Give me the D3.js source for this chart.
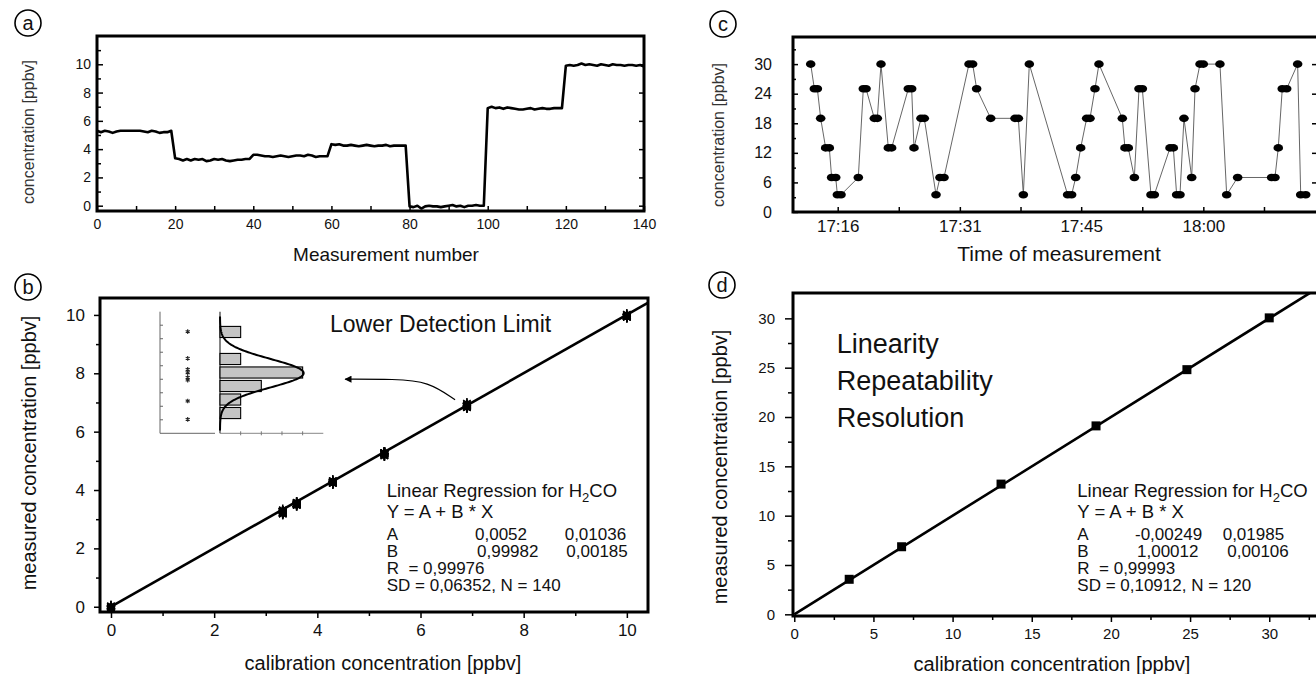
<!DOCTYPE html>
<html>
<head>
<meta charset="utf-8">
<script src="https://cdn.jsdelivr.net/npm/d3@7"></script>
<style>
body { margin: 0; background: #fff; }
svg text { font-family: "Liberation Sans", Arial, Helvetica, sans-serif; fill: #111; }
</style>
</head>
<body>
<svg id="fig" width="1316" height="674"></svg>
<script>
var FONT = '"Liberation Sans", Arial, Helvetica, sans-serif';

// (a) measurement series, index = measurement number
var runValues = [
  5.3,5.2,5.3,5.25,5.15,5.25,5.3,5.3,5.3,5.3,5.3,5.3,5.25,5.2,5.3,5.25,5.15,5.2,5.2,5.3,
  3.35,3.3,3.2,3.3,3.2,3.3,3.25,3.3,3.15,3.2,3.3,3.25,3.3,3.2,3.15,3.2,3.25,3.25,3.3,3.3,
  3.6,3.6,3.55,3.5,3.5,3.45,3.5,3.55,3.5,3.45,3.5,3.55,3.55,3.5,3.6,3.55,3.45,3.5,3.5,3.5,
  4.35,4.3,4.35,4.25,4.25,4.3,4.25,4.2,4.25,4.3,4.25,4.2,4.25,4.25,4.3,4.2,4.25,4.25,4.25,4.25,
  -0.05,-0.1,0.0,-0.2,-0.05,0.0,-0.05,-0.05,-0.1,-0.05,0.0,0.05,-0.05,0.0,-0.1,0.0,0.0,0.05,0.0,0.0,
  6.9,7.0,6.9,6.95,6.85,6.95,6.9,6.85,6.8,6.8,6.85,6.9,6.8,6.85,6.9,6.85,6.85,6.9,6.9,6.9,
  9.9,9.95,9.9,9.95,10.05,9.95,10.0,9.95,9.9,10.0,9.95,9.9,10.0,9.95,9.95,9.9,9.95,9.95,9.9,9.95,9.85
];
// calibration concentration of each block of 20 measurements
var calibLevels = [5.3, 3.33, 3.6, 4.3, 0, 6.9, 10];

// (b) regression and inset
var fitB = [0.0052, 0.99982];
var fitBErr = [0.01036, 0.00185];
var statsB = [0.99976, 0.06352, 140];
var histCounts = [1, 0, 1, 4, 2, 1, 1];
var insetStars = [0.48, 2.45, 3.27, 3.52, 3.86, 4.06, 5.61, 6.97];
var gaussFit = [3.55, 1.05, 4.05]; // mean, sigma, height (bins / counts)
var arrowPath = [[6.67, 7.09], [6.15, 7.72], [5.5, 7.8], [4.54, 7.8]];

// (c) time series, minutes after 17:00
var timeMin = [12.75,13.19,13.55,13.95,14.55,14.99,15.27,15.76,15.96,16.40,
  18.48,19.08,19.41,20.41,20.77,21.21,22.09,22.49,24.50,24.90,
  25.18,26.02,26.42,27.83,28.31,28.79,31.80,32.24,32.72,34.41,
  37.34,37.74,38.34,39.06,43.67,44.15,44.64,45.24,45.96,46.36,
  46.96,47.44,50.25,50.57,50.97,51.70,52.26,52.66,53.70,54.10,
  55.99,56.39,56.79,57.19,57.67,58.60,59.00,59.60,60.00,62.00,
  62.81,64.13,68.22,68.62,69.02,69.50,70.03,71.35,71.72,72.32];
var timeConc = [30,25,25,19,13,13,7,7,3.5,3.5,
  7,25,25,19,19,30,13,13,25,25,
  13,19,19,3.5,7,7,30,30,25,19,
  19,19,3.5,30,3.5,3.5,7,13,19,19,
  25,30,19,13,13,7,25,25,3.5,3.5,
  13,13,3.5,3.5,19,7,25,30,30,30,
  3.5,7,7,7,13,25,25,30,3.5,3.5];
var timeTicks = [16, 23.35, 30.7, 38, 45.3, 52.65, 60, 67.3];
var timeTickLabels = ["17:16", "", "17:31", "", "17:45", "", "18:00", ""];

// (d) calibration points and regression
var calX = [3.47, 6.78, 13.06, 19.06, 24.8, 30.0];
var calY = [3.55, 6.85, 13.2, 19.1, 24.8, 30.05];
var fitD = [-0.00249, 1.00012];
var fitDErr = [0.01985, 0.00106];
var statsD = [0.99993, 0.10912, 120];

var svg = d3.select("#fig");

function comma(v) {
    return String(v).replace(".", ",");
}

function styleAxis(g, size) {
    g.select(".domain").remove();
    g.attr("font-family", FONT).attr("font-size", size);
    g.selectAll(".tick line").attr("stroke", "#000").attr("stroke-width", 1.5);
    g.selectAll(".tick text").attr("fill", "#111");
}

function frame(g, x0, y0, x1, y1) {
    g.append("rect")
        .attr("x", x0).attr("y", y0)
        .attr("width", x1 - x0).attr("height", y1 - y0)
        .attr("fill", "none").attr("stroke", "#000").attr("stroke-width", 3);
}

function circleLabel(cx, cy, letter) {
    svg.append("circle").attr("cx", cx).attr("cy", cy).attr("r", 13)
        .attr("fill", "none").attr("stroke", "#000").attr("stroke-width", 1.6);
    svg.append("text").attr("x", cx).attr("y", cy + 7).attr("text-anchor", "middle")
        .attr("font-size", 20).text(letter);
}

function yTitle(cx, cy, size, txt, col) {
    svg.append("text").attr("transform", "translate(" + cx + "," + cy + ") rotate(-90)")
        .attr("text-anchor", "middle").attr("dy", "0.35em")
        .attr("font-size", size).style("fill", col || "#111").text(txt);
}

function xTitle(cx, y, size, txt) {
    svg.append("text").attr("x", cx).attr("y", y).attr("text-anchor", "middle")
        .attr("font-size", size).text(txt);
}

function clip(id, x0, y0, x1, y1) {
    svg.append("clipPath").attr("id", id).append("rect")
        .attr("x", x0).attr("y", y0).attr("width", x1 - x0).attr("height", y1 - y0);
}

var asterisk = {
    draw: function(ctx, size) {
        var r = Math.sqrt(size) / 2;
        for (var k = 0; k < 3; k++) {
            var a = Math.PI / 2 + k * Math.PI / 3;
            ctx.moveTo(r * Math.cos(a), r * Math.sin(a));
            ctx.lineTo(-r * Math.cos(a), -r * Math.sin(a));
        }
    }
};

function regBlock(x0, y0, fit, err, stats, col2, col3) {
    var g = svg.append("g").attr("font-size", 18.5);
    // the parameter lines sit tighter than the title lines, as in the original
    var dy = [0, 21.6, 43, 60, 77, 94];
    var t = g.append("text").attr("x", x0).attr("y", y0);
    t.append("tspan").text("Linear Regression for H");
    t.append("tspan").attr("dy", 5).attr("font-size", 13).text("2");
    t.append("tspan").attr("dy", -5).text("CO");
    g.append("text").attr("x", x0).attr("y", y0 + dy[1]).text("Y = A + B * X");
    var lo = g.append("g").attr("font-size", 17);
    lo.append("text").attr("x", x0).attr("y", y0 + dy[2]).text("A");
    lo.append("text").attr("x", x0 + col2[0]).attr("y", y0 + dy[2]).text(comma(fit[0]));
    lo.append("text").attr("x", x0 + col3[0]).attr("y", y0 + dy[2]).text(comma(err[0]));
    lo.append("text").attr("x", x0).attr("y", y0 + dy[3]).text("B");
    lo.append("text").attr("x", x0 + col2[1]).attr("y", y0 + dy[3]).text(comma(fit[1]));
    lo.append("text").attr("x", x0 + col3[1]).attr("y", y0 + dy[3]).text(comma(err[1]));
    lo.append("text").attr("x", x0).attr("y", y0 + dy[4]).style("white-space", "pre")
        .text("R  = " + comma(stats[0]));
    lo.append("text").attr("x", x0).attr("y", y0 + dy[5])
        .text("SD = " + comma(stats[1]) + ", N = " + stats[2]);
}

// ---------------- panel a ----------------
(function() {
    var L = 97, R = 644, T = 36, B = 211;
    var x = d3.scaleLinear().domain([0, 140]).range([L, R]);
    var y = d3.scaleLinear().domain([-0.375, 12]).range([B, T]);
    var g = svg.append("g");

    styleAxis(g.append("g").attr("transform", "translate(" + L + ",0)")
        .call(d3.axisLeft(y).tickValues([1, 3, 5, 7, 9, 11]).tickSize(-4).tickFormat("")), 14);
    styleAxis(g.append("g").attr("transform", "translate(" + L + ",0)")
        .call(d3.axisLeft(y).tickValues([0, 2, 4, 6, 8, 10]).tickSize(-6).tickPadding(6)), 14);
    styleAxis(g.append("g").attr("transform", "translate(" + R + ",0)")
        .call(d3.axisRight(y).tickValues([0, 2, 4, 6, 8, 10]).tickSize(-5).tickFormat("")), 14);
    styleAxis(g.append("g").attr("transform", "translate(0," + B + ")")
        .call(d3.axisBottom(x).tickValues(d3.range(10, 140, 20)).tickSize(-5).tickFormat("")), 14);
    styleAxis(g.append("g").attr("transform", "translate(0," + B + ")")
        .call(d3.axisBottom(x).tickValues(d3.range(0, 141, 20)).tickSize(-5).tickPadding(8)), 14);

    g.append("path").datum(runValues)
        .attr("d", d3.line().x(function(d, i) { return x(i); }).y(function(d) { return y(d); }))
        .attr("fill", "none").attr("stroke", "#000").attr("stroke-width", 2.6)
        .attr("stroke-linejoin", "round");

    frame(g, L, T, R, B);
    yTitle(28, 132, 16, "concentration [ppbv]", "#333");
    xTitle(386, 261, 19, "Measurement number");
    circleLabel(28, 23, "a");
})();

// ---------------- panel c ----------------
(function() {
    var L = 793, R = 1318, T = 37, B = 212;
    var x = d3.scaleLinear().domain([10.62, 73.8]).range([L, R]);
    var y = d3.scaleLinear().domain([0, 35.5]).range([B, T]);
    var g = svg.append("g");
    clip("clipC", L, T, R, B);

    styleAxis(g.append("g").attr("transform", "translate(" + L + ",0)")
        .call(d3.axisLeft(y).tickValues([3, 9, 15, 21, 27, 33]).tickSize(-3).tickFormat("")), 16);
    styleAxis(g.append("g").attr("transform", "translate(" + L + ",0)")
        .call(d3.axisLeft(y).tickValues([0, 6, 12, 18, 24, 30]).tickSize(-5).tickPadding(21)), 16);
    styleAxis(g.append("g").attr("transform", "translate(" + R + ",0)")
        .call(d3.axisRight(y).tickValues([6, 12, 18, 24, 30]).tickSize(-6).tickFormat("")), 16);
    styleAxis(g.append("g").attr("transform", "translate(0," + B + ")")
        .call(d3.axisBottom(x).tickValues(timeTicks).tickSize(-5).tickPadding(8)
            .tickFormat(function(d, i) { return timeTickLabels[i]; })), 17);

    var pts = timeMin.map(function(m, i) { return [m, timeConc[i]]; });
    var pg = g.append("g").attr("clip-path", "url(#clipC)");
    pg.append("path").datum(pts)
        .attr("d", d3.line().x(function(d) { return x(d[0]); }).y(function(d) { return y(d[1]); }))
        .attr("fill", "none").attr("stroke", "#555").attr("stroke-width", 0.9);
    pg.selectAll("ellipse").data(pts).enter().append("ellipse")
        .attr("cx", function(d) { return x(d[0]); })
        .attr("cy", function(d) { return y(d[1]); })
        .attr("rx", 4.8).attr("ry", 3.8).attr("fill", "#000");

    frame(g, L, T, R, B);
    yTitle(718, 135, 16, "concentration [ppbv]", "#333");
    xTitle(1059, 261, 21, "Time of measurement");
    circleLabel(723, 24, "c");
})();

// ---------------- panel b ----------------
(function() {
    var L = 100, R = 648, T = 298, B = 612;
    var x = d3.scaleLinear().domain([-0.213, 10.41]).range([L, R]);
    var y = d3.scaleLinear().domain([-0.18, 10.58]).range([B, T]);
    var g = svg.append("g");
    clip("clipB", L, T, R, B);

    styleAxis(g.append("g").attr("transform", "translate(" + L + ",0)")
        .call(d3.axisLeft(y).tickValues([1, 3, 5, 7, 9]).tickSize(4).tickFormat("")), 17);
    styleAxis(g.append("g").attr("transform", "translate(" + L + ",0)")
        .call(d3.axisLeft(y).tickValues([0, 2, 4, 6, 8, 10]).tickSize(6).tickPadding(9)), 17);
    styleAxis(g.append("g").attr("transform", "translate(0," + B + ")")
        .call(d3.axisBottom(x).tickValues([1, 3, 5, 7, 9]).tickSize(4).tickFormat("")), 17);
    styleAxis(g.append("g").attr("transform", "translate(0," + B + ")")
        .call(d3.axisBottom(x).tickValues([0, 2, 4, 6, 8, 10]).tickSize(6).tickPadding(6)), 17);

    var pg = g.append("g").attr("clip-path", "url(#clipB)");
    pg.append("path").datum([-0.05, 10.45])
        .attr("d", d3.line().x(function(d) { return x(d); })
            .y(function(d) { return y(fitB[0] + fitB[1] * d); }))
        .attr("stroke", "#000").attr("stroke-width", 2.6).attr("fill", "none");

    var meas = runValues.slice(0, 140).map(function(v, i) {
        return [calibLevels[Math.floor(i / 20)], v];
    });
    pg.selectAll("path.star").data(meas).enter().append("path")
        .attr("class", "star")
        .attr("transform", function(d) { return "translate(" + x(d[0]) + "," + y(d[1]) + ")"; })
        .attr("d", d3.symbol().type(asterisk).size(80))
        .attr("stroke", "#000").attr("stroke-width", 1.6).attr("fill", "none");

    // inset: distribution at 6.9 ppbv
    var iy = d3.scaleLinear().domain([-1, 8]).range([311.7, 433.3]);
    var ix = d3.scaleLinear().domain([0, 5]).range([220, 323.3]);
    var starX = 187.7, leftAx = 160, leftEnd = 215;
    var ins = g.append("g");
    ins.append("line").attr("x1", leftAx).attr("x2", leftAx).attr("y1", iy(-1)).attr("y2", iy(8))
        .attr("stroke", "#666").attr("stroke-width", 1);
    ins.append("line").attr("x1", leftAx).attr("x2", leftEnd).attr("y1", iy(8)).attr("y2", iy(8))
        .attr("stroke", "#666").attr("stroke-width", 1);
    ins.selectAll("line.lt").data(d3.range(0, 8)).enter().append("line").attr("class", "lt")
        .attr("x1", leftAx).attr("x2", leftAx + 3)
        .attr("y1", function(d) { return iy(d); }).attr("y2", function(d) { return iy(d); })
        .attr("stroke", "#666");
    ins.selectAll("path.istar").data(insetStars).enter().append("path").attr("class", "istar")
        .attr("transform", function(d) { return "translate(" + starX + "," + iy(d) + ")"; })
        .attr("d", d3.symbol().type(asterisk).size(22))
        .attr("stroke", "#222").attr("stroke-width", 1.1).attr("fill", "none");

    ins.append("line").attr("x1", ix(0)).attr("x2", ix(0)).attr("y1", iy(-1)).attr("y2", iy(8))
        .attr("stroke", "#333").attr("stroke-width", 1.2);
    ins.append("line").attr("x1", ix(0)).attr("x2", ix(5)).attr("y1", iy(8)).attr("y2", iy(8))
        .attr("stroke", "#888").attr("stroke-width", 1);
    ins.selectAll("line.bt").data([1, 2, 3, 4]).enter().append("line").attr("class", "bt")
        .attr("x1", function(d) { return ix(d); }).attr("x2", function(d) { return ix(d); })
        .attr("y1", iy(8) - 2).attr("y2", iy(8) + 2).attr("stroke", "#777");
    histCounts.forEach(function(c, i) {
        if (c === 0) return;
        ins.append("rect").attr("class", "bar")
            .attr("x", ix(0)).attr("y", iy(i) + 1.2)
            .attr("width", ix(c) - ix(0)).attr("height", iy(i + 1) - iy(i) - 2.4)
            .attr("fill", "#c4c4c4").attr("stroke", "#000").attr("stroke-width", 1.1);
    });
    var gy = d3.range(-0.65, 7.81, 0.05);
    ins.append("path").datum(gy)
        .attr("d", d3.line()
            .x(function(d) {
                var z = (d - gaussFit[0]) / gaussFit[1];
                return ix(gaussFit[2] * Math.exp(-0.5 * z * z));
            })
            .y(function(d) { return iy(d); }))
        .attr("fill", "none").attr("stroke", "#000").attr("stroke-width", 2);

    // arrow from the 6.9 ppbv point to the inset
    svg.append("defs").append("marker").attr("id", "arrowhead")
        .attr("viewBox", "0 0 10 10").attr("refX", 9).attr("refY", 5)
        .attr("markerWidth", 10).attr("markerHeight", 7).attr("markerUnits", "userSpaceOnUse")
        .attr("orient", "auto")
        .append("path").attr("d", "M0,0L10,5L0,10Z").attr("fill", "#000");
    g.append("path").datum(arrowPath)
        .attr("d", d3.line().curve(d3.curveBasis)
            .x(function(d) { return x(d[0]); }).y(function(d) { return y(d[1]); }))
        .attr("fill", "none").attr("stroke", "#000").attr("stroke-width", 1.2)
        .attr("marker-end", "url(#arrowhead)");

    g.append("text").attr("x", 330).attr("y", 331.5).attr("font-size", 23).text("Lower Detection Limit");
    regBlock(386.7, 496.7, fitB, fitBErr, statsB, [88.3, 90.3], [178, 179.6]);

    frame(g, L, T, R, B);
    yTitle(29, 453, 20, "measured concentration [ppbv]");
    xTitle(383, 670, 20, "calibration concentration [ppbv]");
    circleLabel(28, 287, "b");
})();

// ---------------- panel d ----------------
(function() {
    var L = 793, R = 1318, T = 293, B = 616;
    var x = d3.scaleLinear().domain([-0.08, 33.08]).range([L, R]);
    var y = d3.scaleLinear().domain([-0.17, 32.57]).range([B, T]);
    var g = svg.append("g");
    clip("clipD", L, T, R, B);

    styleAxis(g.append("g").attr("transform", "translate(" + L + ",0)")
        .call(d3.axisLeft(y).tickValues([2.5, 7.5, 12.5, 17.5, 22.5, 27.5]).tickSize(5).tickFormat("")), 15);
    styleAxis(g.append("g").attr("transform", "translate(" + L + ",0)")
        .call(d3.axisLeft(y).tickValues([0, 5, 10, 15, 20, 25, 30]).tickSize(8).tickPadding(10)), 15);
    styleAxis(g.append("g").attr("transform", "translate(0," + B + ")")
        .call(d3.axisBottom(x).tickValues([2.5, 7.5, 12.5, 17.5, 22.5, 27.5, 32.5]).tickSize(4).tickFormat("")), 15);
    styleAxis(g.append("g").attr("transform", "translate(0," + B + ")")
        .call(d3.axisBottom(x).tickValues([0, 5, 10, 15, 20, 25, 30]).tickSize(6).tickPadding(6)), 15);

    var pg = g.append("g").attr("clip-path", "url(#clipD)");
    pg.append("path").datum([0, 33.1])
        .attr("d", d3.line().x(function(d) { return x(d); })
            .y(function(d) { return y(fitD[0] + fitD[1] * d); }))
        .attr("stroke", "#000").attr("stroke-width", 2.6).attr("fill", "none");
    pg.selectAll("path.sq").data(calX).enter().append("path").attr("class", "sq")
        .attr("transform", function(d, i) { return "translate(" + x(d) + "," + y(calY[i]) + ")"; })
        .attr("d", d3.symbol().type(d3.symbolSquare).size(81))
        .attr("fill", "#000");

    var words = ["Linearity", "Repeatability", "Resolution"];
    g.selectAll("text.word").data(words).enter().append("text").attr("class", "word")
        .attr("x", 836.7).attr("y", function(d, i) { return 353.3 + i * 36.7; })
        .attr("font-size", 27).text(function(d) { return d; });
    regBlock(1077.3, 496.7, fitD, fitDErr, statsD, [57.7, 59.7], [145.4, 150]);

    frame(g, L, T, R, B);
    yTitle(720, 467, 20, "measured concentration [ppbv]");
    xTitle(1052, 671, 20, "calibration concentration [ppbv]");
    circleLabel(722, 285, "d");
})();
</script>
</body>
</html>
